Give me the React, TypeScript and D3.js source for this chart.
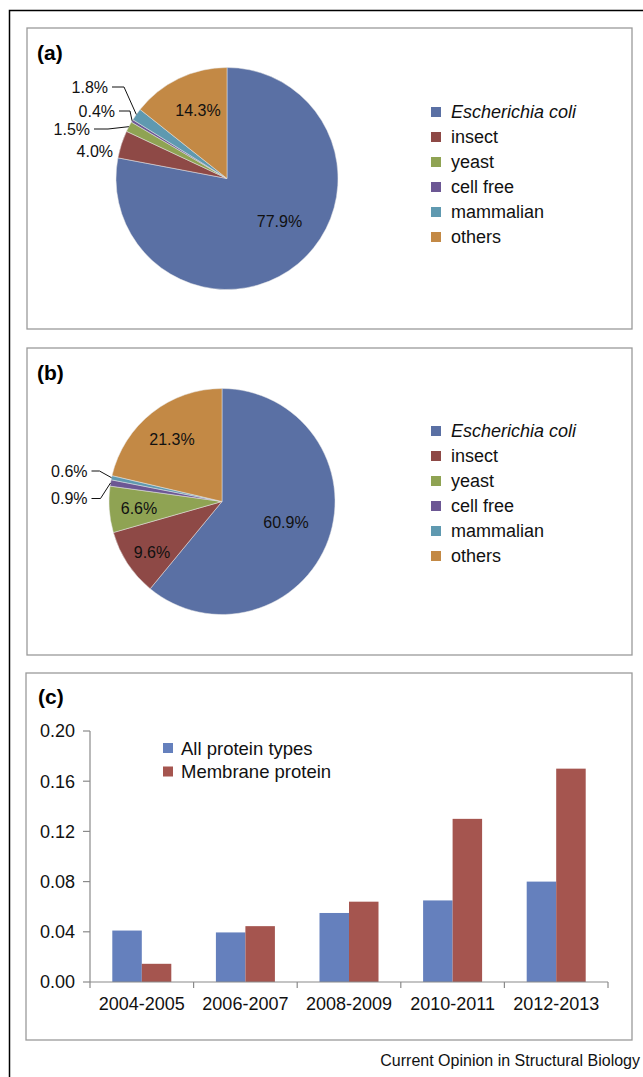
import React, { useRef, useEffect } from 'react';
import * as d3 from 'd3';

// expression systems (pie panels a and b)
const systems = ['Escherichia coli', 'insect', 'yeast', 'cell free', 'mammalian', 'others'];
const systemColors = ['#5a70a4', '#8e4946', '#8fa353', '#6c5794', '#5f99b0', '#c38945'];
const sharesA = [77.9, 4.0, 1.5, 0.4, 1.8, 14.3];
const sharesB = [60.9, 9.6, 6.6, 0.9, 0.6, 21.3];

// panel c
const periods = ['2004-2005', '2006-2007', '2008-2009', '2010-2011', '2012-2013'];
const seriesNames = ['All protein types', 'Membrane protein'];
const seriesColors = ['#6580bd', '#a5554f'];
const allProteins = [0.041, 0.0395, 0.055, 0.065, 0.080];
const membraneProteins = [0.0145, 0.0445, 0.064, 0.130, 0.170];
const yTicks = [0, 0.04, 0.08, 0.12, 0.16, 0.2];

const FONT = "'Liberation Sans', Arial, Helvetica, sans-serif";

// label placement relative to the pie centre (out = outside with leader)
const labelLayoutA = [
  { dx: 52.5, dy: 42.5 },
  { dx: -114, dy: -27.5, out: true, elbow: 0 },
  { dx: -137, dy: -49.5, out: true, elbow: 14 },
  { dx: -112, dy: -67.5, out: true, elbow: 11 },
  { dx: -119, dy: -91.5, out: true, elbow: 12 },
  { dx: -29, dy: -68.5 },
];
const labelLayoutB = [
  { dx: 64, dy: 21 },
  { dx: -70, dy: 50.5 },
  { dx: -83, dy: 6.5 },
  { dx: -134.5, dy: -3, out: true, elbow: 9 },
  { dx: -134.5, dy: -30.5, out: true, elbow: 8 },
  { dx: -50, dy: -62.5 },
];

function drawPie(svg, opts) {
  const { values, cx, cy, r, layout, legendY, tag, box } = opts;
  svg.append('rect')
    .attr('x', box[0]).attr('y', box[1]).attr('width', box[2]).attr('height', box[3])
    .attr('fill', 'none').attr('stroke', '#9a9a9a').attr('stroke-width', 1.3);
  svg.append('text')
    .attr('x', 37).attr('y', box[1] + 32)
    .attr('font-size', 21).attr('font-weight', 'bold').attr('font-family', FONT)
    .text(tag);

  const pie = d3.pie().sort(null).value(d => d);
  const arcs = pie(values);
  const arc = d3.arc().innerRadius(0).outerRadius(r);
  const edge = d3.arc().innerRadius(r).outerRadius(r);
  const g = svg.append('g').attr('transform', `translate(${cx},${cy})`);

  g.selectAll('path.slice')
    .data(arcs)
    .enter().append('path')
    .attr('class', 'slice')
    .attr('d', arc)
    .attr('fill', (d, i) => systemColors[i])
    .attr('stroke', '#e6e6e6').attr('stroke-width', 0.5);

  arcs.forEach((d, i) => {
    const lay = layout[i];
    const txt = `${values[i].toFixed(1)}%`;
    if (lay.out) {
      g.append('text')
        .attr('x', lay.dx).attr('y', lay.dy).attr('dy', '0.36em')
        .attr('text-anchor', 'end')
        .attr('font-size', 16).attr('font-family', FONT).attr('fill', '#111')
        .text(txt);
      if (lay.elbow > 0) {
        const p = edge.centroid(d);
        const x0 = lay.dx + 4;
        g.append('path')
          .attr('d', d3.line()([[x0, lay.dy], [x0 + lay.elbow, lay.dy], p]))
          .attr('fill', 'none').attr('stroke', '#111').attr('stroke-width', 1);
      }
    } else {
      g.append('text')
        .attr('x', lay.dx).attr('y', lay.dy).attr('dy', '0.36em')
        .attr('text-anchor', 'middle')
        .attr('font-size', 16).attr('font-family', FONT).attr('fill', '#111')
        .text(txt);
    }
  });

  // legend
  const lg = svg.append('g').attr('transform', `translate(431,${legendY})`);
  systems.forEach((name, i) => {
    lg.append('rect')
      .attr('x', 0).attr('y', i * 25 - 5).attr('width', 10).attr('height', 10)
      .attr('fill', systemColors[i]);
    lg.append('text')
      .attr('x', 20).attr('y', i * 25).attr('dy', '0.36em')
      .attr('font-size', 18).attr('font-family', FONT).attr('fill', '#111')
      .attr('font-style', i === 0 ? 'italic' : 'normal')
      .text(name);
  });
}

function App() {
  const ref = useRef(null);

  useEffect(() => {
    const svg = d3.select(ref.current);
    svg.selectAll('*').remove();

    // outer frame
    svg.append('path')
      .attr('d', 'M9.5,1077V10.5H643')
      .attr('fill', 'none').attr('stroke', '#000').attr('stroke-width', 1.5);

    drawPie(svg, {
      values: sharesA, cx: 227, cy: 178.5, r: 111, layout: labelLayoutA,
      legendY: 112, tag: '(a)', box: [27, 28, 605, 301],
    });
    drawPie(svg, {
      values: sharesB, cx: 222, cy: 501.5, r: 113, layout: labelLayoutB,
      legendY: 431, tag: '(b)', box: [27, 348, 605, 307],
    });

    // panel c
    svg.append('rect')
      .attr('x', 26).attr('y', 673).attr('width', 606).attr('height', 367)
      .attr('fill', 'none').attr('stroke', '#9a9a9a').attr('stroke-width', 1.3);
    svg.append('text')
      .attr('x', 38).attr('y', 704)
      .attr('font-size', 21).attr('font-weight', 'bold').attr('font-family', FONT)
      .text('(c)');

    const x0 = d3.scaleBand().domain(periods).range([90, 608]);
    const x1 = d3.scaleBand().domain(seriesNames).range([0, x0.bandwidth()])
      .paddingInner(0).paddingOuter(0.756);
    const y = d3.scaleLinear().domain([0, 0.2]).range([982, 731]);
    const axisColor = '#8a8a8a';

    const rows = periods.map((p, i) => ({ p, vals: [allProteins[i], membraneProteins[i]] }));
    const groups = svg.append('g').selectAll('g')
      .data(rows).enter().append('g')
      .attr('transform', d => `translate(${x0(d.p)},0)`);
    groups.selectAll('rect')
      .data(d => d.vals.map((v, j) => ({ v, s: seriesNames[j], j })))
      .enter().append('rect')
      .attr('x', d => x1(d.s))
      .attr('y', d => y(d.v))
      .attr('width', x1.bandwidth())
      .attr('height', d => y(0) - y(d.v))
      .attr('fill', d => seriesColors[d.j]);

    // y axis
    const ya = svg.append('g');
    ya.append('line')
      .attr('x1', 90).attr('x2', 90).attr('y1', y(0.2)).attr('y2', y(0) + 6)
      .attr('stroke', axisColor).attr('stroke-width', 1.2);
    yTicks.forEach(t => {
      ya.append('line')
        .attr('x1', 83).attr('x2', 90).attr('y1', y(t)).attr('y2', y(t))
        .attr('stroke', axisColor).attr('stroke-width', 1.2);
      ya.append('text')
        .attr('x', 75).attr('y', y(t)).attr('dy', '0.36em')
        .attr('text-anchor', 'end')
        .attr('font-size', 18).attr('font-family', FONT).attr('fill', '#111')
        .text(d3.format('.2f')(t));
    });

    // x axis
    const xa = svg.append('g');
    xa.append('line')
      .attr('x1', 90).attr('x2', 608).attr('y1', y(0)).attr('y2', y(0))
      .attr('stroke', axisColor).attr('stroke-width', 1.2);
    periods.forEach(p => {
      const xr = x0(p) + x0.bandwidth();
      xa.append('line')
        .attr('x1', xr).attr('x2', xr).attr('y1', y(0)).attr('y2', y(0) + 6)
        .attr('stroke', axisColor).attr('stroke-width', 1.2);
      xa.append('text')
        .attr('x', x0(p) + x0.bandwidth() / 2).attr('y', 1010)
        .attr('text-anchor', 'middle')
        .attr('font-size', 18).attr('font-family', FONT).attr('fill', '#111')
        .text(p);
    });

    // legend c
    const lc = svg.append('g').attr('transform', 'translate(163,748)');
    seriesNames.forEach((name, i) => {
      lc.append('rect')
        .attr('x', 0).attr('y', i * 23.5 - 5).attr('width', 10).attr('height', 10)
        .attr('fill', seriesColors[i]);
      lc.append('text')
        .attr('x', 18).attr('y', i * 23.5).attr('dy', '0.36em')
        .attr('font-size', 18.5).attr('font-family', FONT).attr('fill', '#111')
        .text(name);
    });

    svg.append('text')
      .attr('x', 640).attr('y', 1066)
      .attr('text-anchor', 'end')
      .attr('font-size', 16).attr('font-family', FONT).attr('fill', '#111')
      .text('Current Opinion in Structural Biology');
  }, []);

  return (
    <svg
      ref={ref}
      width={643}
      height={1077}
      style={{ position: 'absolute', left: 0, top: 0, background: '#fff' }}
    />
  );
}

export default App;
